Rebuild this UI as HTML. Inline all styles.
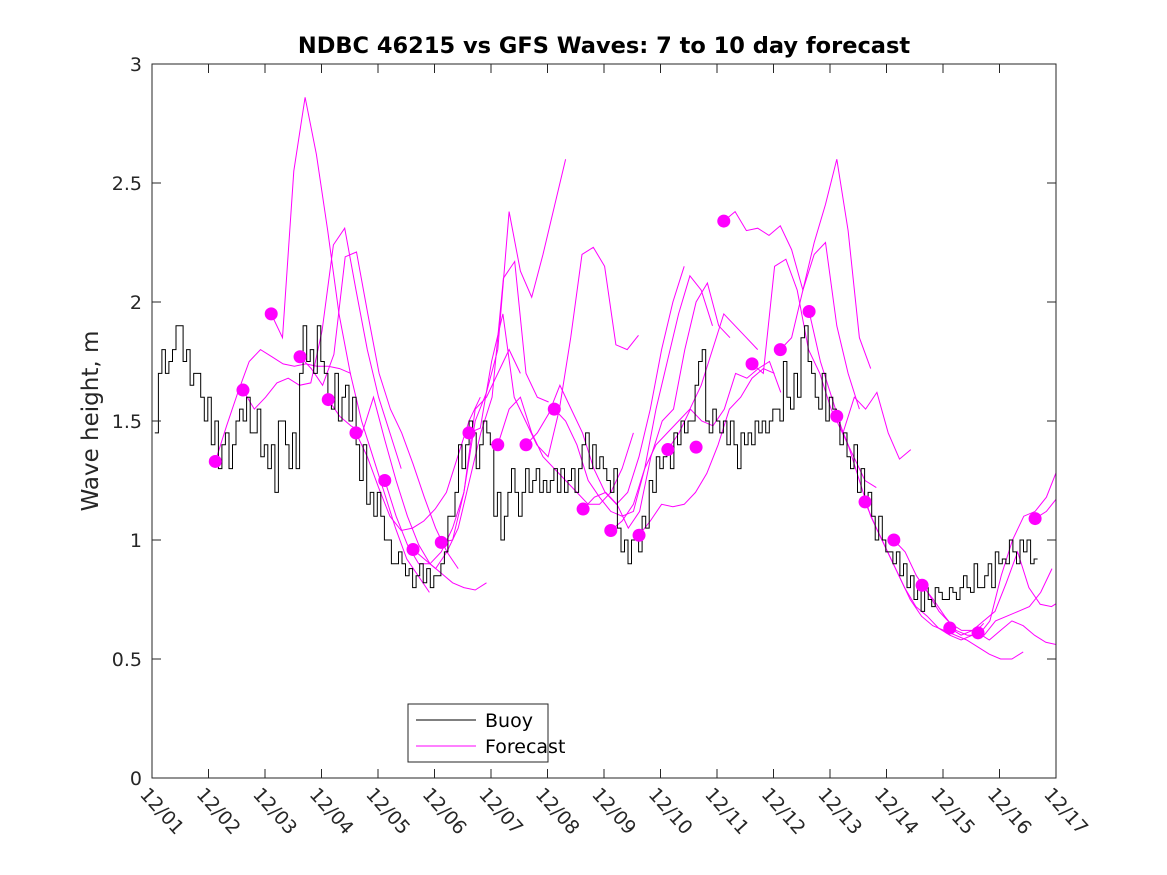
<!DOCTYPE html>
<html><head><meta charset="utf-8"><style>
body{margin:0;background:#fff;}
svg{display:block;font-family:"DejaVu Sans","Liberation Sans",sans-serif;}
</style></head><body>
<svg id="chart" width="1167" height="875" viewBox="0 0 1167 875">
<defs><clipPath id="clip"><rect x="152" y="64" width="904" height="714"/></clipPath></defs>
<rect x="0" y="0" width="1167" height="875" fill="#fff"/>
<text x="604" y="53" text-anchor="middle" font-size="22.5" font-weight="bold" fill="#000">NDBC 46215 vs GFS Waves: 7 to 10 day forecast</text>
<text transform="translate(98,421) rotate(-90)" text-anchor="middle" font-size="23" fill="#262626">Wave height, m</text>
<g id="plot" clip-path="url(#clip)"></g>
<rect x="152" y="64" width="904" height="714" fill="none" stroke="#262626" stroke-width="1"/>
<g id="axes"></g>
<g>
<rect x="408" y="704" width="140" height="58" fill="#fff" stroke="#262626" stroke-width="1"/>
<line x1="416" y1="720" x2="476" y2="720" stroke="#000" stroke-width="1"/>
<text x="485" y="727" font-size="19" fill="#000">Buoy</text>
<line x1="416" y1="746" x2="476" y2="746" stroke="#ff00ff" stroke-width="1"/>
<text x="485" y="753" font-size="19" fill="#000">Forecast</text>
</g>
</svg>
<script>
const xTickLabels = ["12/01","12/02","12/03","12/04","12/05","12/06","12/07","12/08","12/09","12/10","12/11","12/12","12/13","12/14","12/15","12/16","12/17"];
const yTickValues = [0,0.5,1,1.5,2,2.5,3];
const yTickLabels = ["0","0.5","1","1.5","2","2.5","3"];
const buoyStart = 0.05;
const buoyStep = 0.0625;
const buoyValues = [
1.45,1.70,1.80,1.70,1.75,1.80,1.90,1.90,1.75,1.80,1.65,1.70,1.70,1.60,1.50,1.60,
1.40,1.50,1.30,1.40,1.45,1.30,1.40,1.50,1.55,1.50,1.60,1.45,1.45,1.55,1.35,1.40,
1.30,1.40,1.20,1.50,1.50,1.40,1.30,1.45,1.30,1.70,1.90,1.75,1.80,1.70,1.90,1.75,
1.70,1.60,1.55,1.70,1.50,1.60,1.65,1.50,1.60,1.40,1.25,1.40,1.15,1.20,1.10,1.20,
1.10,1.00,1.00,0.90,0.90,0.95,0.90,0.85,0.88,0.80,0.85,0.90,0.82,0.88,0.80,0.85,
0.85,0.90,0.95,1.10,1.10,1.20,1.40,1.30,1.40,1.50,1.45,1.30,1.40,1.50,1.45,1.40,
1.10,1.20,1.00,1.10,1.20,1.30,1.20,1.10,1.20,1.30,1.20,1.25,1.30,1.20,1.25,1.20,
1.25,1.30,1.20,1.30,1.20,1.25,1.30,1.20,1.30,1.40,1.45,1.30,1.40,1.30,1.35,1.30,
1.25,1.20,1.30,1.05,0.95,1.00,0.90,1.00,1.00,0.95,1.10,1.05,1.25,1.20,1.35,1.30,
1.35,1.40,1.30,1.45,1.40,1.50,1.45,1.50,1.50,1.65,1.75,1.80,1.50,1.45,1.55,1.50,
1.45,1.50,1.40,1.50,1.40,1.30,1.45,1.40,1.45,1.40,1.50,1.45,1.50,1.45,1.50,1.55,
1.55,1.50,1.75,1.60,1.55,1.70,1.60,1.85,1.90,1.75,1.70,1.60,1.55,1.70,1.50,1.60,
1.55,1.50,1.40,1.45,1.35,1.30,1.40,1.20,1.30,1.15,1.20,1.10,1.00,1.10,1.00,0.95,
0.95,0.90,0.95,0.85,0.90,0.80,0.85,0.75,0.80,0.70,0.80,0.75,0.72,0.80,0.78,0.75,
0.75,0.80,0.78,0.75,0.80,0.85,0.80,0.78,0.90,0.80,0.80,0.85,0.90,0.80,0.95,0.90,
0.92,0.90,1.00,0.95,0.90,1.00,0.95,1.00,0.90,0.92];
const dotDays = [1.12,1.61,2.11,2.62,3.12,3.61,4.12,4.62,5.12,5.61,6.12,6.62,7.12,7.63,8.12,8.62,9.13,9.63,10.12,10.62,11.12,11.63,12.12,12.62,13.13,13.63,14.12,14.62,15.63];
const dotValues = [1.33,1.63,1.95,1.77,1.59,1.45,1.25,0.96,0.99,1.45,1.40,1.40,1.55,1.13,1.04,1.02,1.38,1.39,2.34,1.74,1.80,1.96,1.52,1.16,1.00,0.81,0.63,0.61,1.09];
const fcStep = 0.2;
const fcStarts = [1.12,1.61,2.11,2.62,3.12,3.61,4.12,4.62,5.12,5.61,6.12,6.62,7.12,7.63,8.12,8.62,9.13,10.12,10.62,11.12,11.63,12.12,12.62,13.13,13.63,14.12,14.62,15.63];
const fcValues = [
[1.33,1.48,1.62,1.75,1.80,1.77,1.74,1.73,1.74,1.73,1.73,1.72,1.70],
[1.63,1.55,1.60,1.66,1.68,1.65,1.66,1.88,2.24,2.31,2.05,1.80,1.60,1.45,1.30],
[1.95,1.85,2.55,2.86,2.62,2.30,1.95,1.70,1.50,1.35,1.20,1.05,0.92,0.85,0.78],
[1.77,1.72,1.65,1.78,2.19,2.21,1.95,1.70,1.55,1.45,1.32,1.18,1.05,0.95,0.88],
[1.59,1.52,1.48,1.45,1.60,1.42,1.25,1.10,0.98,0.90,0.86,0.82,0.80,0.79,0.82],
[1.45,1.35,1.22,1.10,1.04,1.05,1.08,1.13,1.20,1.35,1.50,1.60],
[1.25,1.10,0.98,0.90,0.90,0.95,1.05,1.20,1.55,1.60,1.70,1.80,1.70],
[0.96,0.92,0.88,0.95,1.05,1.25,1.45,1.60,2.10,2.17,1.70,1.60,1.58],
[0.99,1.00,1.20,1.50,1.62,1.80,2.38,2.13,2.02,2.20,2.40,2.60],
[1.45,1.47,1.75,1.95,1.60,1.50,1.40,1.35,1.55,1.85,2.20,2.23,2.15,1.82,1.80,1.86],
[1.40,1.55,1.60,1.45,1.35,1.30,1.25,1.20,1.15,1.15,1.20,1.30,1.45],
[1.40,1.45,1.53,1.65,1.55,1.45,1.30,1.20,1.15,1.20,1.35,1.55,1.80,2.00,2.15],
[1.55,1.50,1.40,1.25,1.18,1.12,1.10,1.12,1.30,1.55,1.75,1.95,2.11,2.05,1.90],
[1.13,1.18,1.20,1.15,1.05,1.12,1.35,1.50,1.55,1.80,2.00,2.08,1.90,1.85],
[1.04,1.08,1.15,1.30,1.40,1.45,1.50,1.55,1.65,1.80,1.95,1.90,1.85,1.80],
[1.02,1.08,1.15,1.14,1.15,1.20,1.28,1.40,1.55,1.60,1.68,1.72,1.70],
[1.38,1.45,1.55,1.50,1.48,1.55,1.70,1.68,1.72,1.75,1.62],
[2.34,2.38,2.30,2.31,2.28,2.32,2.22,2.05,2.20,2.25,1.90,1.70,1.55],
[1.74,1.70,2.15,2.18,2.05,1.80,1.70,1.55,1.45,1.35,1.25,1.22],
[1.80,1.85,2.05,2.25,2.41,2.60,2.30,1.85,1.72],
[1.96,1.75,1.60,1.45,1.60,1.55,1.62,1.45,1.34,1.38],
[1.52,1.40,1.25,1.10,1.00,0.90,0.80,0.72,0.68,0.63,0.60,0.58,0.60,0.65],
[1.16,1.05,0.95,0.85,0.75,0.68,0.64,0.62,0.60,0.58,0.55,0.52,0.50,0.50,0.53],
[1.00,0.95,0.85,0.78,0.70,0.65,0.62,0.62,0.60,0.66,0.68,0.70,0.72,0.78,0.88],
[0.81,0.75,0.68,0.62,0.60,0.60,0.66,0.85,1.00,1.10,1.12,1.18,1.30],
[0.63,0.60,0.62,0.66,0.70,0.82,0.95,0.80,0.73,0.72,0.75,0.88],
[0.61,0.58,0.62,0.66,0.64,0.60,0.57,0.56,0.61],
[1.09,1.12,1.18,1.29]];

const NS = "http://www.w3.org/2000/svg";
const X0 = 152, X1 = 1056, Y0 = 778, Y1 = 64, DAYS = 16, YMAX = 3;
function xs(d){ return X0 + (X1 - X0) * d / DAYS; }
function ys(v){ return Y0 - (Y0 - Y1) * v / YMAX; }
const plot = document.getElementById('plot');
const axes = document.getElementById('axes');

fcValues.forEach((vals, i) => {
  const pts = vals.map((v, j) => xs(fcStarts[i] + j * fcStep).toFixed(1) + ',' + ys(v).toFixed(1)).join(' ');
  const pl = document.createElementNS(NS, 'polyline');
  pl.setAttribute('points', pts);
  pl.setAttribute('fill', 'none');
  pl.setAttribute('stroke', '#ff00ff');
  pl.setAttribute('stroke-width', '1');
  
  
  plot.appendChild(pl);
});

let bp = [];
buoyValues.forEach((v, i) => {
  const xa = xs(buoyStart + i * buoyStep), xb = xs(buoyStart + (i + 1) * buoyStep);
  bp.push(xa.toFixed(1) + ',' + ys(v).toFixed(1));
  bp.push(xb.toFixed(1) + ',' + ys(v).toFixed(1));
});
const bl = document.createElementNS(NS, 'polyline');
bl.setAttribute('points', bp.join(' '));
bl.setAttribute('fill', 'none');
bl.setAttribute('stroke', '#000');
bl.setAttribute('stroke-width', '1');


plot.appendChild(bl);

dotDays.forEach((d, i) => {
  const c = document.createElementNS(NS, 'circle');
  c.setAttribute('cx', xs(d));
  c.setAttribute('cy', ys(dotValues[i]));
  c.setAttribute('r', '6.5');
  c.setAttribute('fill', '#ff00ff');
  
  
  plot.appendChild(c);
});

yTickValues.forEach((v, i) => {
  const y = ys(v);
  [[X0, X0 + 9], [X1, X1 - 9]].forEach(p => {
    const t = document.createElementNS(NS, 'line');
    t.setAttribute('x1', p[0]); t.setAttribute('x2', p[1]);
    t.setAttribute('y1', y); t.setAttribute('y2', y);
    t.setAttribute('stroke', '#262626');
    
    
    axes.appendChild(t);
  });
  const tx = document.createElementNS(NS, 'text');
  tx.setAttribute('x', X0 - 10); tx.setAttribute('y', y + 7);
  tx.setAttribute('text-anchor', 'end');
  tx.setAttribute('font-size', '19');
  tx.setAttribute('fill', '#262626');
  tx.textContent = yTickLabels[i];
  
  
  axes.appendChild(tx);
});

xTickLabels.forEach((lab, i) => {
  const x = xs(i);
  [[Y0, Y0 - 9], [Y1, Y1 + 9]].forEach(p => {
    const t = document.createElementNS(NS, 'line');
    t.setAttribute('x1', x); t.setAttribute('x2', x);
    t.setAttribute('y1', p[0]); t.setAttribute('y2', p[1]);
    t.setAttribute('stroke', '#262626');
    
    
    axes.appendChild(t);
  });
  const tx = document.createElementNS(NS, 'text');
  tx.setAttribute('transform', 'translate(' + (x - 13) + ',' + 795 + ') rotate(48)');
  tx.setAttribute('font-size', '19');
  tx.setAttribute('fill', '#262626');
  tx.textContent = lab;
  
  
  axes.appendChild(tx);
});
</script>
</body></html>
